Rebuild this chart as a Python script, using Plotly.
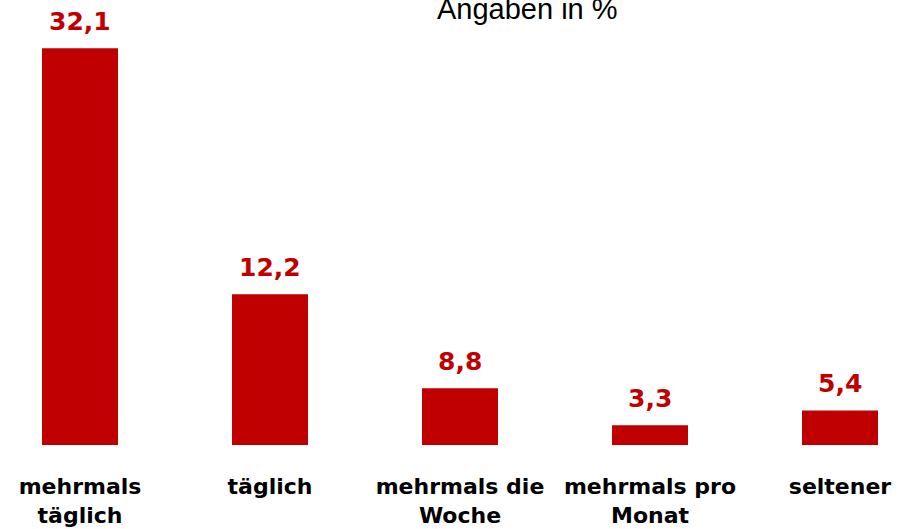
import plotly.graph_objects as go

categories = ["mehrmals<br>täglich", "täglich", "mehrmals die<br>Woche", "mehrmals pro<br>Monat", "seltener"]
bar_heights = [32.1, 12.2, 4.6, 1.6, 2.8]          # heights as drawn in the picture
value_labels = ["32,1", "12,2", "8,8", "3,3", "5,4"]  # printed labels
title_text = "Angaben in %"

RED = "#C00000"

fig = go.Figure()
fig.add_trace(go.Bar(
    x=categories, y=bar_heights, width=0.4,
    marker=dict(color=RED, line=dict(width=0)),
    hoverinfo="skip",
))

for c, h, t in zip(categories, bar_heights, value_labels):
    fig.add_annotation(
        x=c, y=h, xref="x", yref="y", text=t, showarrow=False,
        yanchor="bottom", yshift=10,
        font=dict(family="DejaVu Sans", size=25, color=RED, weight="bold"),
    )

fig.add_annotation(
    x=527 / 908, y=1 - 9 / 445, xref="paper", yref="paper",
    text=title_text, showarrow=False, xanchor="center", yanchor="middle",
    font=dict(family="Liberation Sans", size=29, color="#000000"),
)

fig.update_layout(
    width=908, height=529,
    margin=dict(l=0, r=0, t=0, b=84),
    paper_bgcolor="white", plot_bgcolor="white",
    showlegend=False,
    xaxis=dict(
        range=[-80 / 190, (908 - 80) / 190],
        showgrid=False, zeroline=False, showline=False,
        ticks="outside", ticklen=22, tickcolor="rgba(0,0,0,0)",
        tickfont=dict(family="DejaVu Sans", size=22, color="#000000", weight="bold"),
        automargin=False,
    ),
    yaxis=dict(
        range=[0, 36], visible=False, showgrid=False, zeroline=False,
        automargin=False,
    ),
)

fig.write_html(
    "out.html",
    config={"displayModeBar": False},
    post_script="document.body.style.margin='0';document.body.style.overflow='hidden';",
)
